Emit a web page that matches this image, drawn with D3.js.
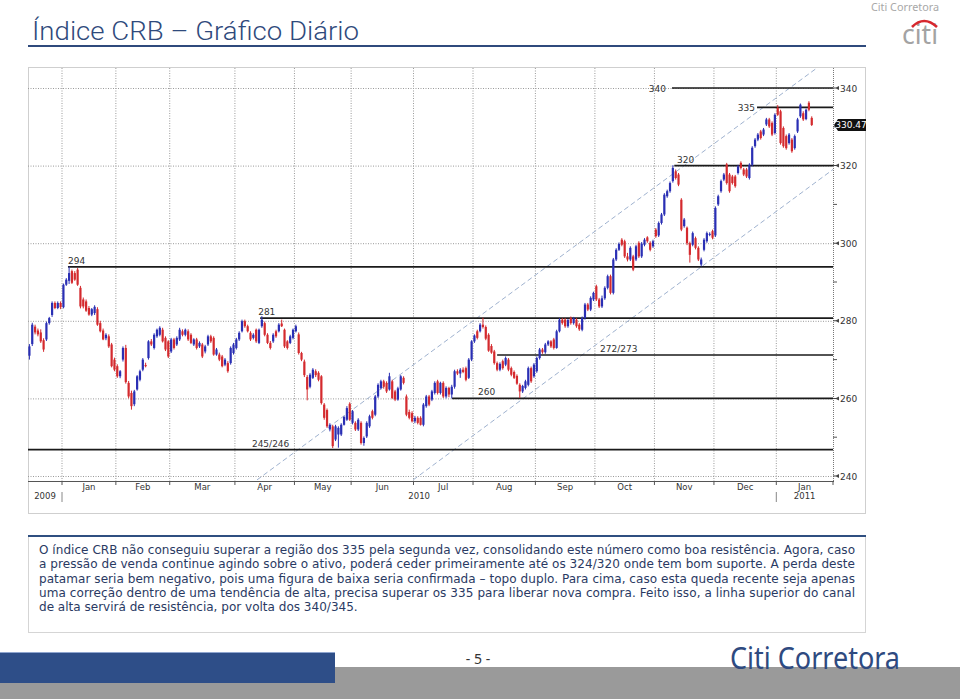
<!DOCTYPE html>
<html><head><meta charset="utf-8">
<script src="https://cdn.jsdelivr.net/npm/d3@7"></script>
<style>body{margin:0;background:#fff;}svg{display:block;}</style>
</head><body>
<svg id="c" width="960" height="699"></svg>
<script>
// ---------- DATA ----------
const monthLabels = ["", "Jan","Feb","Mar","Apr","May","Jun","Jul","Aug","Sep","Oct","Nov","Dec","Jan"];
const monthDays   = [12, 19, 19, 23, 21, 20, 22, 21, 22, 21, 21, 21, 22, 20];
const yearLabels  = [["2009",0,1],["2010",1,13],["2011",13,14]]; // [label, first month idx, end month idx]
const yTicks = [240,260,280,300,320,340];
const yMinorTicks = [250,270,290,310,330];
const lastPrice = 330.47;
// daily candles [open, high, low, close]
const ohlc = [
// Dec 2009
[271,274,270,273.4],[274,279.5,273.5,279],[278.5,279,276.5,277],[277.5,278,276,276.5],[277,277.8,274.3,274.7],[275,275.5,272,272.6],
[275.2,279.8,274.8,279.4],[279.4,281,279,280.7],[281.5,285,281,284.6],[284.6,285,283,283.3],[283.3,285,283,284.6],[284.6,285,283,283.5],
// Jan 2010
[283.5,289.6,283.2,289.3],[289.3,291,289,290.6],[290.3,294,289.5,292.3],[292.8,293.2,289.5,289.8],[292.3,292.8,290.3,290.6],[293.2,293.6,289,289.3],
[288.5,289,283.2,283.7],[285.5,286,283.2,283.7],[285,285.5,282.3,282.6],[283.3,283.8,281.3,281.6],[281.6,283.3,281.2,283],[282,284,281.5,283.6],
[283,283.5,278.7,279],[279.4,280,277,277.3],[277.5,278,275,275.2],[275.5,276.8,275,276.4],[276,276.5,273,273.4],[273.9,274.3,268,268.3],[270,270.5,267,267.4],
// Feb
[268.3,268.8,265.3,265.7],[265.7,267.3,265.2,267],[270,273.4,269.5,273],[273,273.8,263.8,264.2],[264,264.5,260,260.5],[261.4,262,257.1,258],
[258.5,262.2,258,261.8],[262.3,266,262,265.7],[264.8,267.4,264.4,267],[267.4,270.4,267,270],[268.6,269.2,268,268.3],[270.4,275,270,274.7],
[274.7,275.3,273.5,273.9],[273,276.8,272.6,276.4],[276,278,275.6,277.7],[276.4,278.6,276,278.2],[277.7,278.2,274.4,274.7],[275.6,276,272.2,272.6],[274.7,275,270.4,270.8],
// Mar
[272.1,275.6,271.7,275.2],[275.2,275.6,272.6,273],[273.9,276,273.5,275.6],[275.2,278.2,274.8,277.7],[277.3,277.8,276,276.4],[276.4,278,276,277.7],
[277.3,277.8,274.8,275.2],[276.4,276.8,274,274.3],[273.9,275.5,273.5,275.2],[275.2,275.6,272.6,273],[273.4,274.7,273,274.3],[273.9,274.3,270.4,270.8],
[272.1,273.8,271.6,273.4],[273.9,276.4,273.5,276],[276,276.4,274.3,274.7],[275.6,276,271,271.3],[271.3,273,271,272.6],[271.3,271.8,269.6,270],
[270.8,271.2,268,268.3],[268.7,270.4,268.3,270],[269.1,269.6,266.6,267],[269.1,273.4,268.7,273],[271.7,274.3,271.3,273.9],
// Apr
[273,275.6,272.6,275.2],[275.2,277.3,274.8,276.9],[277.3,280.3,277,279.9],[279.9,280.3,278.2,278.6],[278.6,279,277,277.3],[276.9,277.3,274.8,275.2],
[275.6,276.8,275.2,276.4],[277.7,278,274.3,274.7],[274.3,278,274,277.7],[278.6,281.2,278.2,280.3],[279.4,279.8,276,276.4],[276.4,276.8,274,274.3],
[274.3,274.8,272.6,273],[274.7,276.8,274.3,276.4],[277.3,277.7,275.6,276],[277.3,279.4,277,279],[279.3,280.3,278.4,278.6],[277.7,278,273,273.4],
[274.7,275,272.6,273],[274.3,276.4,274,276],[275.6,278,275.2,277.7],
// May
[277.3,279,277,278.6],[276.5,277,271.3,271.7],[271.7,272,269.6,270],[269.5,270,265.5,266],[265.5,266,259.5,262.3],[263,266.5,262.6,266.1],
[265.3,267.8,265,267.4],[267,267.5,265.5,266],[266.6,267,264.4,264.8],[265.7,266,258.4,258.8],[258.4,258.8,254.5,255],[257,257.4,252.4,252.8],
[252,253.6,251.5,253.2],[252.8,253.2,247.2,247.7],[249.4,253.2,249,252.8],[250.7,252.8,247.3,252.4],[250.7,253.6,250.3,253.2],[253.2,255.5,253,255.2],
[254.5,258,254.2,257.5],[258.6,259,254.2,254.5],
// Jun
[253.7,257,253.3,256.7],[253.7,254.1,251.6,252],[252,254.9,251.6,254.5],[253.7,254.1,248.1,248.5],[248.5,250.2,247.8,249.8],[250.2,254.1,249.8,253.7],
[252.8,255.8,252.4,255.4],[256.7,257.1,254.6,255],[255.8,260.9,255.4,260.5],[260.5,263.9,260.1,263.5],[262.7,264.8,262.3,264.4],[264.4,264.8,262.5,263],
[264,264.4,261.4,261.8],[262.3,266.6,262,265.7],[264.4,264.8,259.8,260.1],[261.8,262.2,259.3,259.7],[259.7,263,259.4,262.6],[262.3,266,262,265.7],
[265.3,265.7,263.6,264],[260.5,261,255.4,255.8],[256.5,257.1,254.6,255],[256.2,256.7,253.8,254.1],
// Jul
[254.1,255.5,253.6,255],[255,255.4,253.3,253.7],[255,255.4,253,253.2],[253.2,258.8,252.8,258.4],[258,260.9,257.6,260.5],[260.5,260.9,258,258.4],
[259.7,262.2,259.3,261.8],[261.4,264.4,261,264],[264.4,264.8,261,261.4],[261.4,264.3,261,264],[264,264.4,260.1,260.5],[260.5,263.1,260,262.7],
[262.7,263,260.3,261],[261,263.5,260,263],[263,267.4,262.5,267],[267,267.5,266,266.4],[266.4,267.8,265.3,267.4],[267.4,268,266.5,266.8],
[267.8,268.2,264.4,264.8],[265.3,270.4,265,270],[270,275,269.6,274.7],
// Aug
[274.7,276.5,274.3,276.2],[277.3,277.7,275.2,275.6],[277.3,279.4,277,279],[279,280.8,278,278.4],[278.4,278.8,275,275.4],[276.4,276.8,272,272.3],
[273.5,274,271.5,271.8],[272.1,272.5,268.7,269.1],[269.1,269.5,267,267.4],[267.4,269.3,267,268.9],[269.6,270,267.4,267.8],[268.7,270.8,268.3,270.4],
[270,270.4,267,267.4],[267.8,268.2,265.7,266.1],[266.8,267.2,265,265.3],[265.8,266.2,263.5,263.8],[263.5,263.9,260.1,261.8],[261.8,263.5,261.4,263.2],
[262.7,264.8,262.3,264.4],[263.5,268.2,263.1,267.8],[267.8,268.2,264,264.4],[265.7,269.1,265.3,268.7],
// Sep
[267,270.8,266.6,270.4],[270.4,273,270,272.6],[272.6,273,271.5,271.9],[271.9,274.3,271.5,273.9],[273.9,275,273.5,274.7],[274.7,275,273,273.4],
[275.2,275.6,272.6,273],[273,277.7,272.8,277.3],[277.3,280.7,277,280.3],[280.3,280.7,279,279.4],[280.3,280.7,278.2,278.6],[278.6,280.5,278.2,280.2],
[280.7,281.1,279,279.4],[279.4,281,279,280.6],[280.3,280.7,278.2,278.6],[279,279.4,277.4,277.8],[277.7,281.1,277.3,280.7],[280.7,284.6,280.3,284.2],
[284.2,284.6,282.5,282.9],[282.9,286.3,282.5,285.9],[285.5,287.5,285.1,287.2],
// Oct
[288.9,289.3,285.1,285.5],[285.5,285.9,283.3,283.7],[283.7,286.5,283.3,285.8],[285.8,288.9,285.4,288.5],[288.5,291.9,288.1,291.5],[291.5,291.9,286.8,287.2],
[287.2,296.2,286.8,295.8],[295.8,298.7,295.4,298.3],[298.3,300.2,298,299.8],[300.9,301.3,299.2,299.6],[300.5,300.9,296.2,296.6],[296.6,297.5,295.3,295.8],
[295.8,299.2,295.4,298.8],[296.6,297,292.8,293.2],[295.8,299.6,295.4,299.2],[300.1,300.5,296.2,296.6],[296.6,300.3,296.2,299.9],[299.6,301.3,299.2,300.9],
[301.5,301.8,300.1,300.5],[300.1,300.5,297.9,298.3],[299.2,300.9,298.8,300.5],
// Nov
[303.5,303.9,301.4,301.8],[302,305.6,301.6,305.2],[305.2,307.8,304.8,307.4],[307.4,312.9,307,312.5],[312.1,313.8,311.7,313.4],[313.4,315.9,313,315.5],
[316,320.1,315.6,319.4],[318.5,319,316.4,316.8],[317.7,318.1,314.7,315.1],[311.2,311.6,303.1,303.5],[304.4,306.5,304,306.1],[304,304.3,299.5,300],
[300,300.4,295,297],[299.6,303,299.2,302.6],[301.3,301.7,298.4,298.8],[298.8,299.2,295.4,295.8],[294.5,296.3,294,295.8],[298.3,301.3,297.9,300.9],
[300.5,303,300.1,302.6],[302.3,302.8,301.8,302.4],[303.1,303.5,301,301.4],
// Dec
[302,309.5,301.6,309.1],[310,312.5,309.6,312.1],[313.4,316.4,313,316],[316.4,318.1,316,317.7],[320.3,320.7,315.1,315.5],[317.7,318.1,313,313.4],
[317.2,317.6,315.1,315.5],[317.2,317.6,314.3,314.7],[318.1,320.2,317.7,319.8],[320.7,321.1,319,319.4],[319,319.4,317.3,317.7],[319,319.4,316.8,317.2],
[316.8,320.6,316.4,320.2],[320.2,325,319.8,324.6],[325,327.1,324.6,326.7],[326.7,328.4,326.3,328],[328.8,329.2,326.7,327.1],[328,329.7,327.6,329.3],
[330.6,332.3,330.2,331.9],[331.9,332.3,329.7,330.1],[331,331.4,327.6,328],[328.4,333.5,328,333.1],
// Jan 2011
[334.9,335.6,332.8,333.1],[334,334.4,325.4,325.8],[329.7,330.1,324.6,325],[327.6,328,324.1,324.5],[325.8,328.4,325.4,328],[326.7,327.1,323.3,323.7],
[324.5,328,324.1,327.6],[328.8,332.3,328.4,331.9],[332.7,336,332.3,335.7],[333.5,334,331.5,331.9],[332,334.7,331.7,334.4],[336.2,336.6,334,334.4],
[332.3,332.7,330.2,330.47]
];
// support / resistance levels
const levelValues = [340, 335, 320, 293.9, 280.7, 271.2, 260, 246.8];
const levelLabels = ["340","335","320","294","281","272/273","260","245/246"];
const levelStart  = [227.2, 257.2, 228, 14.1, 81.9, 165.5, 149.6, 0];     // day slot where line begins
const levelLabelAt= [225.1, 256.5, 229, 14.1, 81.2, 201.8, 158.8, 79];    // day slot of label
const levelLabelMode = ["left","left","above","above","above","above","above","above"];
// trend channel lines: [slot0, value0, slot1, value1]
const channels = [[80.8, 239, 278.4, 345.2],[135.9, 239, 284, 319]];
const titleText = "Índice CRB – Gráfico Diário";
const paragraph = [
 "O índice CRB não conseguiu superar a região dos 335 pela segunda vez, consolidando este número como boa resistência. Agora, caso",
 "a pressão de venda continue agindo sobre o ativo, poderá ceder primeiramente até os 324/320 onde tem bom suporte. A perda deste",
 "patamar seria bem negativo, pois uma figura de baixa seria confirmada – topo duplo. Para cima, caso esta queda recente seja apenas",
 "uma correção dentro de uma tendência de alta, precisa superar os 335 para liberar nova compra. Feito isso, a linha superior do canal",
 "de alta servirá de resistência, por volta dos 340/345."
];

// ---------- DRAW ----------
const svg = d3.select("#c");
const NAVY = "#2f4a7c";
const totalSlots = d3.sum(monthDays);
const x = d3.scaleLinear().domain([0, totalSlots]).range([28, 833]);
const y = d3.scaleLinear().domain([240, 340]).range([476, 88]);
const plotTop = 68, axisY = 481;
const bounds = [0, ...d3.cumsum(monthDays)];

// header
svg.append("text").attr("x",32).attr("y",40).attr("font-family","Roboto, 'Noto Sans'").attr("font-weight",300).attr("font-size",25)
  .attr("fill",NAVY).attr("textLength",327).attr("lengthAdjust","spacingAndGlyphs").text(titleText);
svg.append("rect").attr("x",28).attr("y",45).attr("width",838).attr("height",2).attr("fill",NAVY);
svg.append("text").attr("x",871).attr("y",11).attr("font-family","Noto Sans").attr("font-size",11)
  .attr("fill","#a8a8a8").attr("textLength",68).attr("lengthAdjust","spacingAndGlyphs").text("Citi Corretora");
svg.append("text").attr("x",902).attr("y",44).attr("font-family","Noto Sans").attr("font-size",27)
  .attr("fill","#a3a3a3").attr("textLength",36).attr("lengthAdjust","spacingAndGlyphs").text("citi");
svg.append("path").attr("d","M912,27 Q924,15 937,27").attr("fill","none").attr("stroke","#d7282f").attr("stroke-width",2.6);

// chart frame
svg.append("rect").attr("x",28.5).attr("y",67.5).attr("width",837).attr("height",446)
  .attr("fill","#fff").attr("stroke","#cfcfcf");

const g = svg.append("g");
svg.append("defs").append("clipPath").attr("id","plot").append("rect")
  .attr("x",28).attr("y",plotTop).attr("width",805).attr("height",axisY-plotTop);

// grid
g.selectAll(".vg").data(bounds.slice(1,-1)).join("line")
  .attr("x1",d=>x(d)).attr("x2",d=>x(d)).attr("y1",plotTop).attr("y2",axisY)
  .attr("stroke","#9a9a9a").attr("stroke-dasharray","1,1.5");
g.selectAll(".hg").data(yTicks).join("line")
  .attr("x1",28).attr("x2",833).attr("y1",d=>y(d)+0.5).attr("y2",d=>y(d)+0.5)
  .attr("stroke","#9a9a9a").attr("stroke-dasharray","1,1.5");

// right axis line (dotted)
g.append("line").attr("x1",833.5).attr("x2",833.5).attr("y1",plotTop).attr("y2",axisY)
  .attr("stroke","#777").attr("stroke-dasharray","1,1");
// bottom axis
g.append("line").attr("x1",28).attr("x2",834).attr("y1",axisY+0.5).attr("y2",axisY+0.5).attr("stroke","#555");
g.selectAll(".xt").data(bounds.slice(1,-1).concat([totalSlots])).join("line")
  .attr("x1",d=>x(d)).attr("x2",d=>x(d)).attr("y1",axisY).attr("y2",axisY+4).attr("stroke","#555");

// channels
const cg = g.append("g").attr("clip-path","url(#plot)");
cg.selectAll(".ch").data(channels).join("line")
  .attr("x1",d=>x(d[0])).attr("y1",d=>y(d[1])).attr("x2",d=>x(d[2])).attr("y2",d=>y(d[3]))
  .attr("stroke","#9fb2cf").attr("stroke-width",1).attr("stroke-dasharray","5,3");

// levels
const levels = levelValues.map((v,i)=>({v, label:levelLabels[i], s:levelStart[i], la:levelLabelAt[i], mode:levelLabelMode[i]}));
g.selectAll(".lv").data(levels).join("line")
  .attr("x1",d=>x(d.s)).attr("x2",833).attr("y1",d=>y(d.v)).attr("y2",d=>y(d.v))
  .attr("stroke","#1a1a1a").attr("stroke-width",1.6);
g.selectAll(".lvt").data(levels).join("text")
  .attr("x",d=>x(d.la))
  .attr("y",d=>d.mode==="left"? y(d.v)+3.5 : y(d.v)-3)
  .attr("text-anchor",d=>d.mode==="left"?"end":"start")
  .attr("font-family","DejaVu Sans").attr("font-size",9).attr("fill","#333").text(d=>d.label);

// candles
const cw = 2.2;
const cand = g.append("g");
cand.selectAll(".wk").data(ohlc).join("line")
  .attr("x1",(d,i)=>x(i+0.5)).attr("x2",(d,i)=>x(i+0.5))
  .attr("y1",d=>y(d[1])).attr("y2",d=>y(d[2]))
  .attr("stroke",d=>d[3]>=d[0]?"#2a2fb4":"#d42a2e").attr("stroke-width",1);
cand.selectAll(".bd").data(ohlc).join("rect")
  .attr("x",(d,i)=>x(i+0.5)-cw/2).attr("width",cw)
  .attr("y",d=>y(Math.max(d[0],d[3])))
  .attr("height",d=>Math.max(1,Math.abs(y(d[0])-y(d[3]))))
  .attr("fill",d=>d[3]>=d[0]?"#2a2fb4":"#d42a2e");

// y axis ticks + labels
g.selectAll(".ymt").data(yMinorTicks).join("line")
  .attr("x1",833).attr("x2",837).attr("y1",d=>y(d)).attr("y2",d=>y(d)).attr("stroke","#555");
g.selectAll(".ytk").data(yTicks).join("path")
  .attr("d",d=>`M833,${y(d)-0.5}h3l3,-1.5v4l-3,-1.5h-3z`).attr("fill","#444");
g.selectAll(".ytl").data(yTicks).join("text")
  .attr("x",840).attr("y",d=>y(d)+3.5).attr("font-family","DejaVu Sans").attr("font-size",9)
  .attr("fill","#333").text(d=>d);

// last price callout
const ly = y(lastPrice);
g.append("path").attr("d",`M834,${ly} l4,-6 h28 v12 h-28 z`).attr("fill","#111");
g.append("text").attr("x",851).attr("y",ly+3.5).attr("text-anchor","middle").attr("font-family","DejaVu Sans")
  .attr("font-size",9).attr("fill","#fff").text(lastPrice.toFixed(2));

// month + year labels
const months = monthLabels.map((m,i)=>({m, a:bounds[i], b:bounds[i+1]}));
g.selectAll(".ml").data(months.filter(d=>d.m)).join("text")
  .attr("x",d=>x((d.a+d.b)/2)).attr("y",490).attr("text-anchor","middle")
  .attr("font-family","DejaVu Sans").attr("font-size",8.5).attr("fill","#333").text(d=>d.m);
g.selectAll(".yl").data(yearLabels).join("text")
  .attr("x",d=>x((bounds[d[1]]+Math.min(bounds[d[2]],totalSlots))/2)).attr("y",499).attr("text-anchor","middle")
  .attr("font-family","DejaVu Sans").attr("font-size",8.5).attr("fill","#333").text(d=>d[0]);
g.selectAll(".yd").data(yearLabels.slice(1)).join("line")
  .attr("x1",d=>x(bounds[d[1]])).attr("x2",d=>x(bounds[d[1]])).attr("y1",492).attr("y2",502).attr("stroke","#888");

// text box
svg.append("rect").attr("x",28.5).attr("y",536.5).attr("width",837).attr("height",96)
  .attr("fill","none").attr("stroke","#aaa").attr("stroke-dasharray","1,1");
svg.append("rect").attr("x",28).attr("y",535).attr("width",838).attr("height",2).attr("fill","#2f4f80");
const tg = svg.append("g").attr("font-family","DejaVu Sans").attr("fill","#2a3a63");
const probe = tg.append("text").attr("font-size",12).text(paragraph[paragraph.length-1]);
const fs = 12*319/probe.node().getComputedTextLength();
probe.remove();
paragraph.forEach((line,i)=>{
  const t = tg.append("text").attr("x",39).attr("y",554+i*14.3).attr("font-size",fs).text(line);
  if(i<paragraph.length-1) t.attr("textLength",816).attr("lengthAdjust","spacing");
});

// footer
svg.append("rect").attr("x",0).attr("y",667).attr("width",960).attr("height",32).attr("fill","#9a9a9a");
svg.append("rect").attr("x",0).attr("y",652).attr("width",335).attr("height",31).attr("fill","#2e4e88");
svg.append("rect").attr("x",0).attr("y",652).attr("width",335).attr("height",1).attr("fill","#8fa5cf");
svg.append("text").attr("x",478).attr("y",664).attr("text-anchor","middle").attr("font-family","Noto Sans")
  .attr("font-size",14).attr("fill","#333").text("- 5 -");
svg.append("text").attr("x",730).attr("y",669).attr("font-family","Noto Sans").attr("font-size",31)
  .attr("fill","#2e4a80").attr("textLength",170).attr("lengthAdjust","spacingAndGlyphs").text("Citi Corretora");
</script>
</body></html>
